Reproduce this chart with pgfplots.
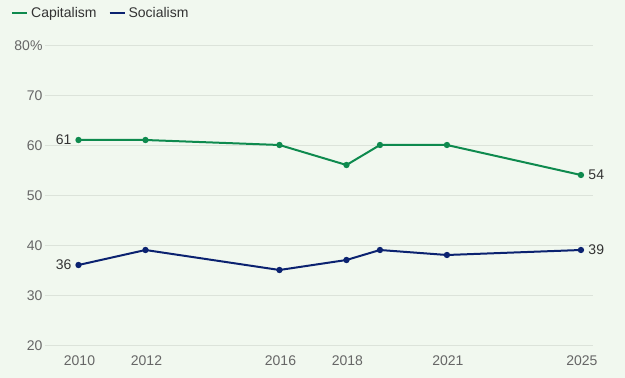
\documentclass[border=0pt]{standalone}
\usepackage{pgfplots}
\pgfplotsset{compat=1.18}
\usepackage{fontspec}
\setmainfont{Liberation Sans}
\definecolor{bg}{HTML}{F1F8EF}
\definecolor{capg}{HTML}{0E8A4E}
\definecolor{socb}{HTML}{0B2270}
\definecolor{gridc}{HTML}{DCE3DA}
\definecolor{tickc}{HTML}{666666}
\definecolor{lblc}{HTML}{333333}
\begin{document}
\begin{tikzpicture}[x=1pt,y=1pt]
\fill[bg] (0,0) rectangle (625,378);
\useasboundingbox (0,0) rectangle (625,378);
\begin{axis}[
  at={(45pt,33pt)}, anchor=south west,
  scale only axis, width=548pt, height=300pt,
  xmin=2009, xmax=2025.36, ymin=20, ymax=80,
  clip=false,
  axis line style={draw=none},
  major tick length=0pt,
  ymajorgrids, grid style={gridc, line width=0.9pt},
  xtick={2010,2012,2016,2018,2021,2025},
  xticklabels={2010,2012,2016,2018,2021,2025},
  ytick={20,30,40,50,60,70,80},
  yticklabels={20,30,40,50,60,70,80\%},
  tick label style={font=\fontsize{14}{16}\selectfont, text=tickc},
  xticklabel style={yshift=-7pt, xshift=1pt},
  yticklabel style={xshift=1pt, yshift=-1pt},
  /pgf/number format/assume math mode=true,
  legend columns=2,
  legend image code/.code={\draw[line width=2pt] (0pt,0pt) -- (15pt,0pt);},
  legend style={at={(axis description cs:0,1)}, anchor=west, xshift=-37pt, yshift=32pt,
    draw=none, fill=none, font=\fontsize{14}{16}\selectfont, text=lblc,
    /tikz/every even column/.append style={column sep=10pt},
    /tikz/every odd column/.append style={column sep=1pt}},
]
\addplot[capg, line width=2pt, mark=*, mark size=2.1pt]
  coordinates {(2010,61)(2012,61)(2016,60)(2018,56)(2019,60)(2021,60)(2025,54)};
\addlegendentry{Capitalism}
\addplot[socb, line width=2pt, mark=*, mark size=2.1pt]
  coordinates {(2010,36)(2012,39)(2016,35)(2018,37)(2019,39)(2021,38)(2025,39)};
\addlegendentry{Socialism}
\addplot[forget plot, draw=none, nodes near coords, point meta=explicit symbolic,
  nodes near coords style={anchor=east, xshift=-3.5pt, font=\fontsize{14}{16}\selectfont, text=lblc}]
  table[meta=l] {x y l
2010 61 61
2010 36 36
};
\addplot[forget plot, draw=none, nodes near coords, point meta=explicit symbolic,
  nodes near coords style={anchor=west, xshift=4pt, font=\fontsize{14}{16}\selectfont, text=lblc}]
  table[meta=l] {x y l
2025 54 54
2025 39 39
};
\end{axis}
\end{tikzpicture}
\end{document}
